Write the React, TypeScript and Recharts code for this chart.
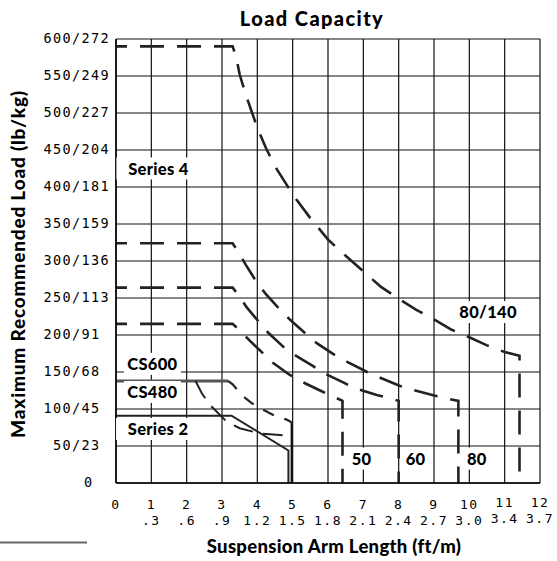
import { LineChart, Line, XAxis, YAxis, CartesianGrid, ReferenceDot } from 'recharts';

// arm length (ft) and matching metric tick text
const X_TICKS = [0, 1, 2, 3, 4, 5, 6, 7, 8, 9, 10, 11, 12];
const X_METRIC = ['', '.3', '.6', '.9', '1.2', '1.5', '1.8', '2.1', '2.4', '2.7', '3.0', '3.4', '3.7'];

// load (lb) and matching kg tick text
const Y_TICKS = [0, 50, 100, 150, 200, 250, 300, 350, 400, 450, 500, 550, 600];
const Y_KG = ['', '23', '45', '68', '91', '113', '136', '159', '181', '204', '227', '249', '272'];

// Series 4 – 80/140
const series4 = [
  { x: 0, y: 590 }, { x: 3.3, y: 590 }, { x: 3.4, y: 576 }, { x: 3.5, y: 552 }, { x: 3.7, y: 521 },
  { x: 4, y: 480 }, { x: 4.25, y: 452 }, { x: 4.5, y: 428 }, { x: 5, y: 390 }, { x: 5.5, y: 358 },
  { x: 6, y: 329 }, { x: 6.5, y: 307 }, { x: 7, y: 286 }, { x: 7.5, y: 265 }, { x: 8, y: 249 },
  { x: 8.5, y: 234 }, { x: 9, y: 221 }, { x: 9.5, y: 207 }, { x: 10, y: 197 }, { x: 10.5, y: 186 },
  { x: 11, y: 177 }, { x: 11.42, y: 172 }, { x: 11.42, y: 0 },
];

// Series 4 – 80
const curve80 = [
  { x: 0, y: 324 }, { x: 3.3, y: 324 }, { x: 3.48, y: 311 }, { x: 3.67, y: 295 }, { x: 4, y: 270 },
  { x: 4.23, y: 256 }, { x: 4.67, y: 233 }, { x: 4.92, y: 221 }, { x: 5.41, y: 200 }, { x: 5.68, y: 189 },
  { x: 6.22, y: 172 }, { x: 6.53, y: 164 }, { x: 7.11, y: 150 }, { x: 7.44, y: 143 }, { x: 8.04, y: 131 },
  { x: 8.4, y: 126 }, { x: 9.03, y: 118 }, { x: 9.38, y: 114 }, { x: 9.69, y: 111 }, { x: 9.69, y: 0 },
];

// Series 4 – 60
const curve60 = [
  { x: 0, y: 264 }, { x: 3.3, y: 264 }, { x: 3.5, y: 252 }, { x: 3.69, y: 238 }, { x: 4.09, y: 215 },
  { x: 4.31, y: 203 }, { x: 4.78, y: 182 }, { x: 5.06, y: 173 }, { x: 5.58, y: 158 }, { x: 5.86, y: 149 },
  { x: 6.43, y: 136 }, { x: 6.76, y: 128 }, { x: 7.38, y: 119 }, { x: 7.71, y: 115 }, { x: 8, y: 111 },
  { x: 8, y: 0 },
];

// Series 4 – 50
const curve50 = [
  { x: 0, y: 215 }, { x: 3.3, y: 215 }, { x: 3.53, y: 205 }, { x: 3.77, y: 193 }, { x: 4.21, y: 173 },
  { x: 4.45, y: 162 }, { x: 4.92, y: 146 }, { x: 5.25, y: 137 }, { x: 5.82, y: 124 }, { x: 6.41, y: 111 },
  { x: 6.41, y: 0 },
];

// CS600
const cs600Flat = [{ x: 0, y: 138 }, { x: 3.17, y: 138 }];
const cs600Drop = [
  { x: 3.17, y: 138 }, { x: 3.31, y: 133 }, { x: 3.55, y: 119 }, { x: 3.84, y: 108 }, { x: 4.16, y: 99 },
  { x: 4.45, y: 92 }, { x: 4.81, y: 86 }, { x: 4.97, y: 82 },
];
const cs600End = [{ x: 4.97, y: 82 }, { x: 4.97, y: 0 }];

// CS480
const cs480 = [
  { x: 2.25, y: 138 }, { x: 2.42, y: 122 }, { x: 2.63, y: 107 }, { x: 3.13, y: 83 }, { x: 3.5, y: 74 },
  { x: 4.07, y: 67 }, { x: 4.64, y: 65 }, { x: 4.9, y: 63 },
];

// Series 2
const series2 = [{ x: 0, y: 91 }, { x: 3.27, y: 91 }, { x: 4.88, y: 44 }, { x: 4.88, y: 0 }];

// in-plot labels
const NOTE_TEXT = ['Series 4', 'CS600', 'CS480', 'Series 2', '80/140', '50', '60', '80'];
const NOTE_X = [1.2, 1.03, 1.03, 1.19, 10.53, 6.95, 8.48, 10.21];
const NOTE_Y = [425, 161, 123, 73, 231, 33, 33, 33];

const TICK_FONT = '"DejaVu Sans Mono", monospace';
const BOLD_FONT = 'Lato, "Open Sans", sans-serif';

function XTick({ x, y, payload, index }: any) {
  const high = payload.value >= 11;
  const top = y + (high ? 24 : 26);
  return (
    <g fontFamily={TICK_FONT} fontSize={13} letterSpacing={1.5} fill="#000" textAnchor="middle">
      <text x={x} y={top}>{payload.value}</text>
      {X_METRIC[index] && <text x={x} y={top + 15.5}>{X_METRIC[index]}</text>}
    </g>
  );
}

function YTick({ x, y, payload, index }: any) {
  const kg = Y_KG[index];
  if (!kg) {
    return (
      <text x={x - 28} y={y + 4} textAnchor="middle" fontFamily={TICK_FONT} fontSize={13.5} fill="#000">
        {payload.value}
      </text>
    );
  }
  const slash = x - 44;
  return (
    <g fontFamily={TICK_FONT} fontSize={13.5} letterSpacing={1.4} fill="#000">
      <text x={slash} y={y + 4} textAnchor="end">{payload.value}</text>
      <text x={slash} y={y + 4}>{'/' + kg}</text>
    </g>
  );
}

function Note({ cx, cy, text }: any) {
  const w = text.length * 9 + 12;
  return (
    <g>
      <rect x={cx - w / 2} y={cy - 11} width={w} height={22} fill="#fff" />
      <text x={cx} y={cy + 6} textAnchor="middle" fontFamily={BOLD_FONT} fontWeight={900}
        fontSize={16.5} letterSpacing={0.3} fill="#000">{text}</text>
    </g>
  );
}

const dashed = { stroke: '#222', strokeWidth: 2.6, strokeDasharray: '24 13', dot: false, activeDot: false };

export default function App() {
  return (
    <div style={{ position: 'absolute', left: 0, top: 0, width: 557, height: 561, background: '#fff' }}>
      <LineChart width={557} height={561} margin={{ top: 39, right: 17, bottom: 0, left: 0 }}>
        <CartesianGrid stroke="#111" strokeWidth={1.2} />
        <XAxis dataKey="x" type="number" domain={[0, 12]} ticks={X_TICKS} interval={0} height={78}
          tickLine={false} tickSize={0} tickMargin={0} axisLine={{ stroke: '#000', strokeWidth: 1.5 }}
          tick={<XTick />} allowDuplicatedCategory={false} />
        <YAxis type="number" domain={[0, 600]} ticks={Y_TICKS} interval={0} width={116}
          tickLine={false} tickSize={0} tickMargin={0} axisLine={{ stroke: '#000', strokeWidth: 1.5 }}
          tick={<YTick />} />
        {NOTE_TEXT.map((t, i) => (
          <ReferenceDot key={t} x={NOTE_X[i]} y={NOTE_Y[i]} r={0}
            shape={(p: any) => <Note cx={p.cx} cy={p.cy} text={t} />} />
        ))}
        <Line data={series4} dataKey="y" type="linear" {...dashed} strokeDashoffset={13} isAnimationActive={false} />
        <Line data={curve80} dataKey="y" type="linear" {...dashed} strokeDashoffset={13} isAnimationActive={false} />
        <Line data={curve60} dataKey="y" type="linear" {...dashed} strokeDashoffset={13} isAnimationActive={false} />
        <Line data={curve50} dataKey="y" type="linear" {...dashed} strokeDashoffset={13} isAnimationActive={false} />
        <Line data={cs600Flat} dataKey="y" type="linear" stroke="#555" strokeWidth={3} dot={false}
          activeDot={false} isAnimationActive={false} />
        <Line data={cs600Drop} dataKey="y" type="linear" stroke="#222" strokeWidth={2.2} strokeDasharray="12 11"
          dot={false} activeDot={false} isAnimationActive={false} />
        <Line data={cs600End} dataKey="y" type="linear" stroke="#111" strokeWidth={2} dot={false}
          activeDot={false} isAnimationActive={false} />
        <Line data={cs480} dataKey="y" type="linear" stroke="#222" strokeWidth={2} strokeDasharray="20 10"
          dot={false} activeDot={false} isAnimationActive={false} />
        <Line data={series2} dataKey="y" type="linear" stroke="#222" strokeWidth={2} dot={false}
          activeDot={false} isAnimationActive={false} />
      </LineChart>
      <svg width={557} height={561} style={{ position: 'absolute', left: 0, top: 0, pointerEvents: 'none' }}>
        <text x={312} y={26} textAnchor="middle" fontFamily={BOLD_FONT} fontWeight={900} fontSize={20}
          letterSpacing={1.4} fill="#000">Load Capacity</text>
        <text transform="translate(25 264) rotate(-90)" textAnchor="middle" fontFamily={BOLD_FONT}
          fontWeight={900} fontSize={19} letterSpacing={0.8} fill="#000">Maximum Recommended Load (lb/kg)</text>
        <text x={334} y={553} textAnchor="middle" fontFamily={BOLD_FONT} fontWeight={900} fontSize={18.5}
          letterSpacing={0.3} fill="#000">Suspension Arm Length (ft/m)</text>
        <line x1={0} y1={542.5} x2={87} y2={542.5} stroke="#666" strokeWidth={2} />
      </svg>
    </div>
  );
}
